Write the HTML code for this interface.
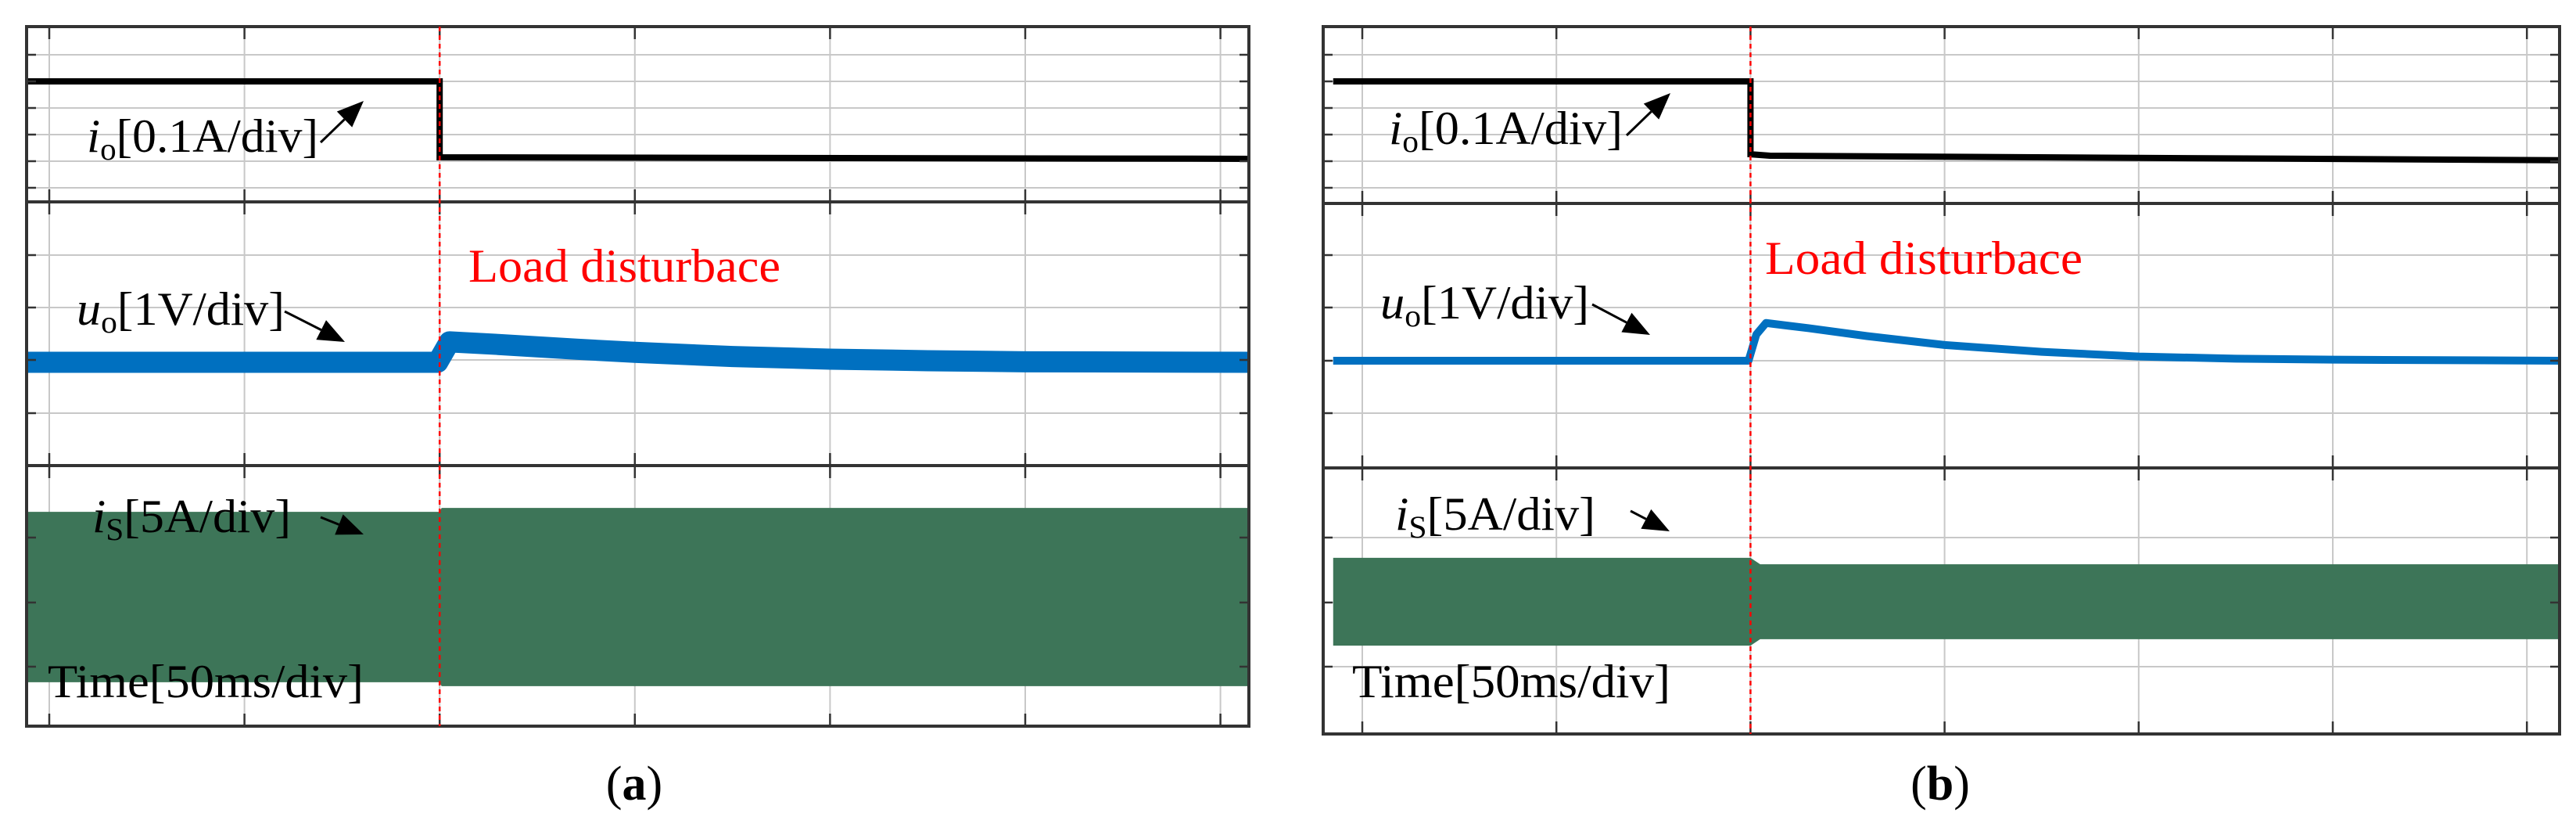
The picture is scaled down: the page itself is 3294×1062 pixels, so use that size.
<!DOCTYPE html>
<html><head><meta charset="utf-8"><style>
html,body{margin:0;padding:0;background:#fff;}
svg{display:block;}
</style></head><body>
<svg id="fig" width="3294" height="1062" viewBox="0 0 3294 1062" xmlns="http://www.w3.org/2000/svg">
<rect x="0" y="0" width="3294" height="1062" fill="#fff"/>
</svg>
<script>
// ---- data (time in divisions of 50 ms; step at t=2) ----
const ioTimeA = [-0.15, 2, 2, 6.2];
const ioValA  = [1.0, 1.0, 0.0, -0.02];
const ioTimeB = [-0.15, 2, 2, 2.1, 6.2];
const ioValB  = [1.0, 1.0, 0.03, 0.01, -0.05];
const uoTimeA = [-0.15, 1.99, 2.05, 2.3, 2.7, 3.0, 3.5, 4.0, 4.5, 5.0, 6.2];
const uoValA  = [0, 0, 0.39, 0.34, 0.25, 0.19, 0.11, 0.06, 0.03, 0.01, 0.0];
const uoTimeB = [-0.15, 1.99, 2.03, 2.08, 2.3, 2.6, 3.0, 3.5, 4.0, 4.5, 5.0, 6.2];
const uoValB  = [0, 0, 0.5, 0.72, 0.62, 0.47, 0.3, 0.17, 0.08, 0.04, 0.02, 0.0];
const isTimeA = [-0.15, 2, 2.01, 6.2];
const isAmpA  = [6.6, 6.6, 6.9, 6.9];
const isTimeB = [-0.15, 2, 2.05, 6.2];
const isAmpB  = [3.4, 3.4, 2.9, 2.9];

const NS = 'http://www.w3.org/2000/svg';
const svg = document.getElementById('fig');
function mk(tag, attrs, parent){
  const e = document.createElementNS(NS, tag);
  for (const k in attrs) e.setAttribute(k, attrs[k]);
  (parent||svg).appendChild(e);
  return e;
}

const panels = [
 {id:'a', L:34, R:1597, T:34, B:928, d1:258, d2:595, gx0:63, gdx:249.6,
  hTop:[70,104,138,172,206,240], hMid:[326,393,460,528], hBot:[687,770,852],
  ioHi:104, ioLo:201, uo0:463, uoPx:67, uoW:27, is0:763, isPx:16.5,
  ioT:ioTimeA, ioV:ioValA, uoT:uoTimeA, uoV:uoValA, isT:isTimeA, isA:isAmpA,
  lab:{io:[111,194,296], ioA:[410,182,465,129], load:[599,360,399], uo:[98,415,266], uoA:[364,398,441,437],
       is:[118,680,254], isA:[410,661,465,683], time:[61,891,404], cap:[811,1022,'a']}},
 {id:'b', L:1692, R:3273, T:34, B:938, d1:260, d2:598, gx0:1742, gdx:248.2,
  hTop:[70,104,138,172,206,240], hMid:[326,393,461,528], hBot:[687,770,852],
  ioHi:104, ioLo:200, uo0:461, uoPx:67, uoW:10, is0:769, isPx:16.5,
  ioT:ioTimeB, ioV:ioValB, uoT:uoTimeB, uoV:uoValB, isT:isTimeB, isA:isAmpB,
  lab:{io:[1776,184,299], ioA:[2080,173,2136,119], load:[2257,350,406], uo:[1765,407,267], uoA:[2036,389,2110,428],
       is:[1784,677,256], isA:[2085,653,2135,679], time:[1729,891,407], cap:[2481,1022,'b']}}
];

panels.forEach(p=>{
  const g = mk('g', {});
  
  
  const X = t => p.gx0 + t*p.gdx;
  const cx = x => Math.max(p.L, Math.min(p.R, x));
  const grid = mk('g', {stroke:'#c8c8c8','stroke-width':2}, g);
  
  
  for (let k=0;k<7;k++){ const x=X(k); if(x<p.R) mk('line',{x1:x,y1:p.T,x2:x,y2:p.B},grid); }
  p.hTop.concat(p.hMid,p.hBot).forEach(y=>mk('line',{x1:p.L,y1:y,x2:p.R,y2:y},grid));
  const up=[], dn=[];
  p.isT.forEach((t,i)=>{ up.push(cx(X(t))+','+(p.is0 - p.isA[i]*p.isPx)); dn.unshift(cx(X(t))+','+(p.is0 + p.isA[i]*p.isPx)); });
  const isP = mk('polygon',{points:up.concat(dn).join(' '), fill:'#3d7558'}, g);
  
  
  const uoPts = p.uoT.map((t,i)=>cx(X(t))+','+(p.uo0 - p.uoV[i]*p.uoPx)).join(' ');
  const uoL = mk('polyline',{points:uoPts, fill:'none', stroke:'#0070c0','stroke-width':p.uoW,'stroke-linejoin':'round'}, g);
  
  
  const ioPts = p.ioT.map((t,i)=>cx(X(t))+','+(p.ioLo - p.ioV[i]*(p.ioLo-p.ioHi))).join(' ');
  const ioL = mk('polyline',{points:ioPts, fill:'none', stroke:'#000','stroke-width':8}, g);
  
  
  const fr = mk('g',{stroke:'#333'}, g);
  
  
  mk('rect',{x:p.L,y:p.T,width:p.R-p.L,height:p.B-p.T,fill:'none','stroke-width':4},fr);
  mk('line',{x1:p.L,y1:p.d1,x2:p.R,y2:p.d1,'stroke-width':4},fr);
  mk('line',{x1:p.L,y1:p.d2,x2:p.R,y2:p.d2,'stroke-width':4},fr);
  for (let k=0;k<7;k++){ const x=X(k); if(x>=p.R) continue;
    [[p.T,1],[p.d1,1],[p.d1,-1],[p.d2,1],[p.d2,-1],[p.B,-1]].forEach(([y,s])=>mk('line',{x1:x,y1:y,x2:x,y2:y+s*16,'stroke-width':2.5},fr)); }
  p.hTop.concat(p.hMid,p.hBot).forEach(y=>{ mk('line',{x1:p.L,y1:y,x2:p.L+12,y2:y,'stroke-width':2.5},fr); mk('line',{x1:p.R-12,y1:y,x2:p.R,y2:y,'stroke-width':2.5},fr); });
  const rd = mk('line',{x1:X(2),y1:p.T,x2:X(2),y2:p.B,stroke:'#ff0000','stroke-width':2.5,'stroke-dasharray':'6,5'}, g);
  
  
  const F = '"Liberation Serif", serif';
  function label(name, spec, parts, color){
    const t = mk('text',{x:spec[0],y:spec[1],'font-family':F,'font-size':60,fill:color||'#000',textLength:spec[2],lengthAdjust:'spacingAndGlyphs'}, g);
    
    
    parts.forEach(([s,st])=>{ const ts=mk('tspan',st||{},t); ts.textContent=s; });
  }
  function arrow(name, a){
    const ag = mk('g',{}, g);
    
    
    const [x1,y1,x2,y2]=a; const ang=Math.atan2(y2-y1,x2-x1), L=34, W=14;
    const bx=x2-L*Math.cos(ang), by=y2-L*Math.sin(ang);
    mk('line',{x1:x1,y1:y1,x2:bx,y2:by,stroke:'#000','stroke-width':3},ag);
    mk('polygon',{points:`${x2},${y2} ${bx+W*Math.sin(ang)},${by-W*Math.cos(ang)} ${bx-W*Math.sin(ang)},${by+W*Math.cos(ang)}`,fill:'#000'},ag);
  }
  const lb=p.lab;
  label('io-label-'+p.id, lb.io, [['i',{'font-style':'italic'}],['o',{'font-size':40,dy:10}],['[0.1A/div]',{dy:-10}]]);
  arrow('io-arrow-'+p.id, lb.ioA);
  label('load-disturbance-label-'+p.id, lb.load, [['Load disturbace']], '#ff0000');
  label('uo-label-'+p.id, lb.uo, [['u',{'font-style':'italic'}],['o',{'font-size':40,dy:10}],['[1V/div]',{dy:-10}]]);
  arrow('uo-arrow-'+p.id, lb.uoA);
  label('is-label-'+p.id, lb.is, [['i',{'font-style':'italic'}],['S',{'font-size':40,dy:10}],['[5A/div]',{dy:-10}]]);
  arrow('is-arrow-'+p.id, lb.isA);
  label('time-label-'+p.id, lb.time, [['Time[50ms/div]']]);
  const cap = mk('text',{x:lb.cap[0],y:lb.cap[1],'font-family':F,'font-size':62,'text-anchor':'middle',fill:'#000'}, g);
  
  
  const c1=mk('tspan',{},cap); c1.textContent='(';
  const c2=mk('tspan',{'font-weight':'bold'},cap); c2.textContent=lb.cap[2];
  const c3=mk('tspan',{},cap); c3.textContent=')';
});
</script>
</body></html>
